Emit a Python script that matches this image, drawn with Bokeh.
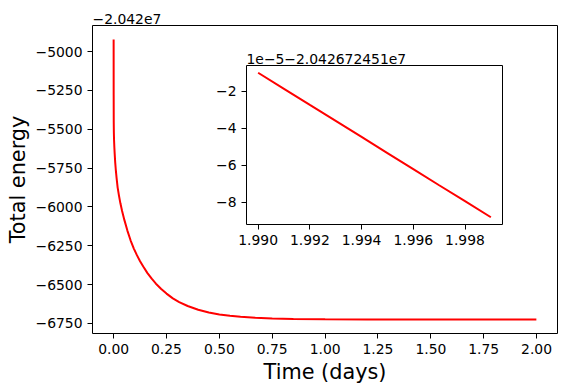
from bokeh.plotting import figure
from bokeh.models import Range1d, FixedTicker
from bokeh.layouts import column
from bokeh.embed import file_html
from bokeh.resources import INLINE

FONT = "DejaVu Sans"

# ---- main curve: total energy shown relative to the offset -2.042e7 ----
time_days = [0.0, 0.0002, 0.0005, 0.001, 0.002, 0.0035, 0.005, 0.0075, 0.010,
             0.014, 0.019, 0.025, 0.032, 0.040, 0.051, 0.065, 0.080, 0.095,
             0.110, 0.125, 0.140, 0.160, 0.180, 0.200, 0.225, 0.250, 0.280,
             0.310, 0.350, 0.400, 0.450, 0.500, 0.550, 0.600, 0.670, 0.750,
             0.850, 1.000, 1.200, 1.500, 1.750, 1.999]
energy_rel = [-4922.0, -5280.6, -5450.2, -5515.0, -5570.4, -5618.6, -5658.6,
              -5714.6, -5757.5, -5814.7, -5875.1, -5925.3, -5976.7, -6026.2,
              -6084.8, -6152.0, -6214.5, -6266.5, -6310.3, -6349.4, -6383.8,
              -6425.9, -6462.0, -6494.1, -6528.5, -6557.8, -6588.2, -6612.1,
              -6637.7, -6661.8, -6679.2, -6691.7, -6700.8, -6707.4, -6713.6,
              -6717.9, -6721.1, -6723.2, -6724.15, -6724.45, -6724.5, -6724.51]
main_offset_text = "\u22122.042e7"

x_ticks = [0.0, 0.25, 0.5, 0.75, 1.0, 1.25, 1.5, 1.75, 2.0]
x_tick_labels = ["0.00", "0.25", "0.50", "0.75", "1.00", "1.25", "1.50", "1.75", "2.00"]
y_ticks = [-5000, -5250, -5500, -5750, -6000, -6250, -6500, -6750]
y_tick_labels = ["\u22125000", "\u22125250", "\u22125500", "\u22125750",
                 "\u22126000", "\u22126250", "\u22126500", "\u22126750"]

# ---- inset: last samples, in units of 1e-5 relative to -2.042672451e7 ----
inset_time = [1.990, 1.991, 1.992, 1.993, 1.994, 1.995, 1.996, 1.997, 1.998, 1.999]
inset_energy = [-0.99, -1.86, -2.73, -3.59, -4.46, -5.33, -6.20, -7.07, -7.93, -8.80]
inset_offset_text = "1e\u22125\u22122.042672451e7"
inset_x_ticks = [1.990, 1.992, 1.994, 1.996, 1.998]
inset_x_tick_labels = ["1.990", "1.992", "1.994", "1.996", "1.998"]
inset_y_ticks = [-2, -4, -6, -8]
inset_y_tick_labels = ["\u22122", "\u22124", "\u22126", "\u22128"]


def padded(vals, frac=0.05):
    lo, hi = min(vals), max(vals)
    d = (hi - lo) * frac
    return lo - d, hi + d


def style(fig, xt, xl, yt, yl, title_text):
    fig.xgrid.visible = False
    fig.ygrid.visible = False
    fig.outline_line_color = "black"
    fig.outline_line_width = 1
    fig.outline_line_alpha = 1
    fig.background_fill_color = "white"
    fig.xaxis.ticker = FixedTicker(ticks=xt)
    fig.yaxis.ticker = FixedTicker(ticks=yt)
    fig.xaxis.major_label_overrides = dict(zip(xt, xl))
    fig.yaxis.major_label_overrides = dict(zip(yt, yl))
    for ax in (fig.xaxis, fig.yaxis):
        ax.axis_line_color = None
        ax.major_tick_line_color = "black"
        ax.major_tick_line_width = 1
        ax.major_tick_out = 5
        ax.major_tick_in = 0
        ax.minor_tick_line_color = None
        ax.major_label_text_font = FONT
        ax.major_label_text_font_size = "13.9px"
        ax.major_label_text_color = "black"
        ax.major_label_standoff = 5
        ax.axis_label_text_font = FONT
        ax.axis_label_text_font_size = "20.8px"
        ax.axis_label_text_font_style = "normal"
        ax.axis_label_text_color = "black"
        ax.axis_label_standoff = 3
    fig.title.text = title_text
    fig.title.align = "left"
    fig.title.text_font = FONT
    fig.title.text_font_size = "13.9px"
    fig.title.text_font_style = "normal"
    fig.title.text_color = "black"
    fig.title.standoff = 3


# ---- main figure ----
xr = Range1d(*padded(time_days))
yr = Range1d(*padded(energy_rel))
p = figure(frame_width=465, frame_height=308, x_range=xr, y_range=yr,
           output_backend="svg", toolbar_location=None,
           min_border_left=92, min_border_right=10,
           min_border_top=25, min_border_bottom=59)
p.line(time_days, energy_rel, line_color="#ff0000", line_width=2)
style(p, x_ticks, x_tick_labels, y_ticks, y_tick_labels, main_offset_text)
p.xaxis.axis_label = "Time (days)"
p.yaxis.axis_label = "Total energy"
p.border_fill_color = "white"

# ---- inset figure (overlaid; column aligns its left border with the main one) ----
ixr = Range1d(*padded(inset_time))
iyr = Range1d(*padded(inset_energy))
inset = figure(frame_width=256, frame_height=159, x_range=ixr, y_range=iyr,
               output_backend="svg", toolbar_location=None,
               min_border_left=92, min_border_right=10,
               min_border_top=24, min_border_bottom=30)
inset.line(inset_time, inset_energy, line_color="#ff0000", line_width=2)
style(inset, inset_x_ticks, inset_x_tick_labels, inset_y_ticks,
      inset_y_tick_labels, inset_offset_text)
inset.border_fill_alpha = 0
inset.styles = {"position": "absolute", "left": "154px", "top": "41px"}

layout = column(p, inset)
open("out.html", "w").write(file_html(layout, INLINE))
